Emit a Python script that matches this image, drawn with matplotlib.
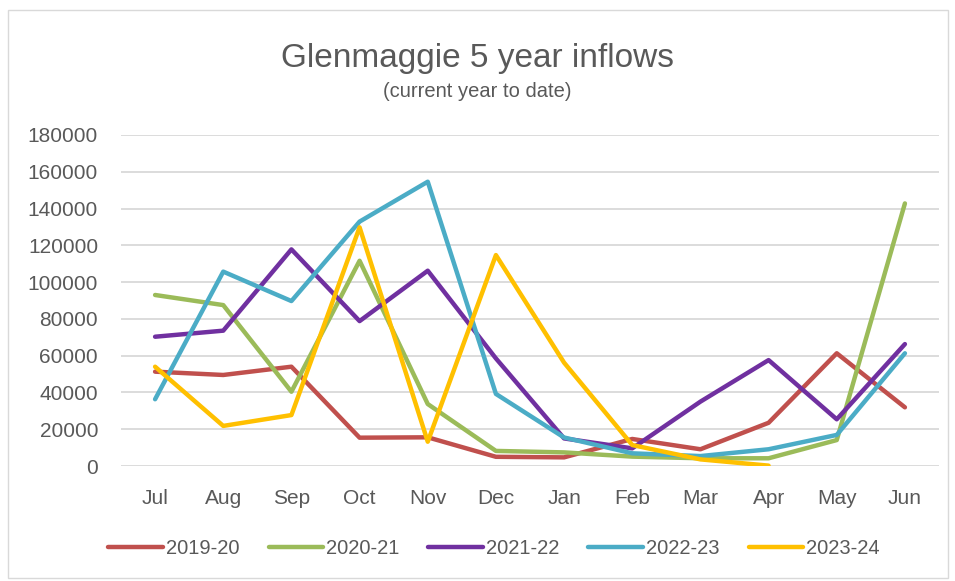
import matplotlib
matplotlib.use("Agg")
import matplotlib.pyplot as plt
from matplotlib.patches import Rectangle

months = ["Jul", "Aug", "Sep", "Oct", "Nov", "Dec", "Jan", "Feb", "Mar", "Apr", "May", "Jun"]
y2019 = [51300, 49500, 54000, 15400, 15600, 5000, 4700, 14700, 9100, 23500, 61300, 31900]
y2020 = [93000, 87500, 40400, 111600, 33700, 8200, 7400, 5100, 4200, 4200, 14100, 142800]
y2021 = [70300, 73600, 117800, 78800, 106200, 58500, 15000, 9600, 35000, 57600, 25400, 66300]
y2022 = [36300, 105700, 89700, 132900, 154600, 39200, 15500, 6900, 5400, 9100, 16900, 61300]
y2023 = [54000, 21800, 27700, 129800, 13200, 114700, 56200, 11400, 3600, 200]
labels = ["2019-20", "2020-21", "2021-22", "2022-23", "2023-24"]
colors = ["#C0504D", "#9BBB59", "#7030A0", "#4BACC6", "#FFC000"]

text_col = "#595959"
plt.rcParams['font.family'] = ['Liberation Sans', 'DejaVu Sans']

fig = plt.figure(figsize=(9.55, 5.81), dpi=100)
ax = fig.add_axes([121/955, 1-466/581, 818/955, 331/581])

series = [y2019, y2020, y2021, y2022, y2023]
for vals, lab, c in zip(series, labels, colors):
    ax.plot(range(len(vals)), vals, color=c, lw=3.2, label=lab,
            solid_joinstyle='round', solid_capstyle='round', zorder=3)

ax.set_xlim(-0.5, 11.5)
ax.set_ylim(0, 180000)
ax.set_yticks(range(0, 180001, 20000))
ax.set_xticks(range(12))
ax.set_xticklabels(months)
ax.tick_params(length=0, colors=text_col, labelsize=15)
ax.tick_params(axis='x', pad=16.5)
ax.tick_params(axis='y', pad=16.5)
ax.grid(axis='y', color='#D9D9D9', lw=1.3)
for s in ax.spines.values():
    s.set_visible(False)

fig.text(0.5, 1-67/581, "Glenmaggie 5 year inflows", ha='center', va='baseline',
         fontsize=24, color=text_col)
fig.text(0.5, 1-97/581, "(current year to date)", ha='center', va='baseline',
         fontsize=14.5, color=text_col)

fig.legend(loc='center', bbox_to_anchor=(494/955, 1-549/581), ncol=5, frameon=False,
           fontsize=14.5, labelcolor=text_col, handlelength=2.7, columnspacing=1.45,
           handletextpad=0.15)

fig.patches.append(Rectangle((8/955, 1-578/581), 940/955, 568/581, transform=fig.transFigure,
                             fill=False, edgecolor='#D9D9D9', lw=1))

fig.savefig("out.png", dpi=100)
